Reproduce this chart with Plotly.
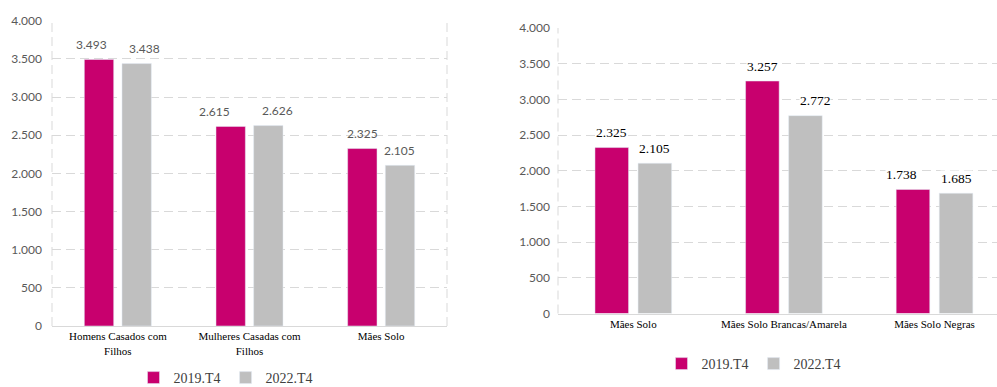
import plotly.graph_objects as go

# ---------------- data ----------------
left_categories = ["Homens Casados com<br>Filhos", "Mulheres Casadas com<br>Filhos", "Mães Solo"]
left_2019 = [3493, 2615, 2325]
left_2022 = [3438, 2626, 2105]

right_categories = ["Mães Solo", "Mães Solo Brancas/Amarela", "Mães Solo Negras"]
right_2019 = [2325, 3257, 1738]
right_2022 = [2105, 2772, 1685]

series_names = ["2019.T4", "2022.T4"]
y_tick_values = [0, 500, 1000, 1500, 2000, 2500, 3000, 3500, 4000]
y_tick_labels = ["0", "500", "1.000", "1.500", "2.000", "2.500", "3.000", "3.500", "4.000"]

# ---------------- style ----------------
W, H = 997, 387
MAGENTA = "#C8006E"
GRAY = "#BFBFBF"
GRID = "#D9D9D9"
DASH = "9px,5px"
BARGAP = 0.428
BARGROUPGAP = 0.22
X_DOM_L = [52 / W, 447 / W]
X_DOM_R = [558 / W, 1.0]
Y_DOM_L = [1 - 326 / H, 1 - 20.7 / H]
Y_DOM_R = [1 - 313.5 / H, 1 - 28 / H]
X_RANGE_R = [-0.5, 2.415]
# small horizontal nudges of the value labels (px), per series
left_nudge = [[-7.5, -16, 0], [8, 9.5, 0]]
right_nudge = [[0, 0, -11], [0, 10, 0]]


def fmt(v):
    return f"{v:,}".replace(",", ".")


fig = go.Figure()
colors = [MAGENTA, GRAY]
for i, (vals, name) in enumerate(zip([left_2019, left_2022], series_names)):
    fig.add_trace(go.Bar(x=left_categories, y=vals, name=name, marker_color=colors[i],
                         xaxis="x", yaxis="y", legend="legend", hoverinfo="x+y+name"))
for i, (vals, name) in enumerate(zip([right_2019, right_2022], series_names)):
    fig.add_trace(go.Bar(x=right_categories, y=vals, name=name, marker_color=colors[i],
                         xaxis="x2", yaxis="y2", legend="legend2", hoverinfo="x+y+name"))

annotations = []
cat_px_l = (X_DOM_L[1] - X_DOM_L[0]) * W / 3
cat_px_r = (X_DOM_R[1] - X_DOM_R[0]) * W / (X_RANGE_R[1] - X_RANGE_R[0])
for cats, series, nudges, cat_px, xr, yr, font, bg in [
    (left_categories, [left_2019, left_2022], left_nudge, cat_px_l, "x", "y",
     dict(family="Lato", size=12, color="#595959"), "rgba(0,0,0,0)"),
    (right_categories, [right_2019, right_2022], right_nudge, cat_px_r, "x2", "y2",
     dict(family="Liberation Serif", size=13.5, color="#000000"), "#FFFFFF"),
]:
    slot = cat_px * (1 - BARGAP) / 2
    for i, vals in enumerate(series):
        sign = -1 if i == 0 else 1
        for j, (c, v) in enumerate(zip(cats, vals)):
            annotations.append(dict(
                x=c, y=v, xref=xr, yref=yr, text=fmt(v), showarrow=False,
                xanchor="center", yanchor="middle",
                xshift=sign * slot / 2 + nudges[i][j], yshift=15,
                font=font, bgcolor=bg, borderpad=0))

shapes = []
for xref, yref, xs in [("x domain", "y domain", [0, 1]), ("x2 domain", "y2 domain", [0])]:
    for xv in xs:
        shapes.append(dict(type="line", xref=xref, yref=yref, x0=xv, x1=xv, y0=0, y1=1,
                           line=dict(color=GRID, width=1, dash=DASH), layer="below"))

yaxis_common = dict(range=[0, 4000], tickvals=y_tick_values, ticktext=y_tick_labels,
                    showgrid=True, gridcolor=GRID, griddash=DASH, gridwidth=1,
                    zeroline=False, showline=False, ticks="",
                    tickfont=dict(family="Lato", size=12, color="#595959"),
                    fixedrange=True)

legend_common = dict(orientation="h", xanchor="center", yanchor="middle",
                     font=dict(family="Liberation Serif", size=14, color="#404040"),
                     bgcolor="rgba(0,0,0,0)", itemwidth=30)

fig.update_layout(
    width=W, height=H,
    margin=dict(l=0, r=0, t=0, b=0, autoexpand=False),
    paper_bgcolor="white", plot_bgcolor="white",
    barmode="group", bargap=BARGAP, bargroupgap=BARGROUPGAP,
    xaxis=dict(domain=X_DOM_L, anchor="y", type="category", range=[-0.5, 2.5],
               showline=True, linecolor=GRID, linewidth=1, showgrid=False, ticks="",
               tickfont=dict(family="Liberation Serif", size=11, color="#000000")),
    yaxis=dict(domain=Y_DOM_L, anchor="x", ticklabelstandoff=9, **yaxis_common),
    xaxis2=dict(domain=X_DOM_R, anchor="y2", type="category", range=X_RANGE_R,
                showline=True, linecolor=GRID, linewidth=1, showgrid=False, ticks="",
                tickfont=dict(family="Liberation Serif", size=11, color="#000000")),
    yaxis2=dict(domain=Y_DOM_R, anchor="x2", ticklabelstandoff=7, **yaxis_common),
    legend=dict(x=226 / W, y=1 - 378 / H, **legend_common),
    legend2=dict(x=754 / W, y=1 - 364 / H, **legend_common),
    annotations=annotations,
    shapes=shapes,
    showlegend=True,
)

fig.write_html("out.html", config={"displayModeBar": False},
               post_script="document.body.style.margin='0';document.body.style.overflow='hidden';")
